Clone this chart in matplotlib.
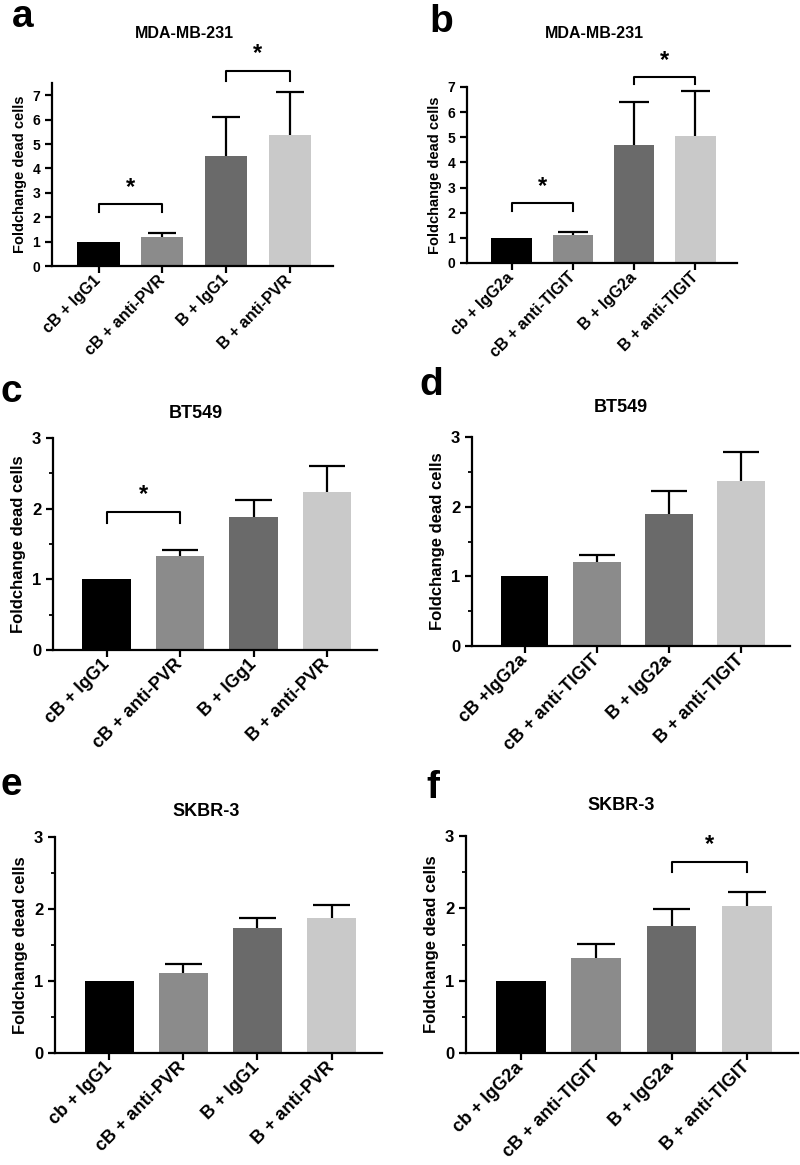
import numpy as np
import matplotlib
matplotlib.use("Agg")
import matplotlib.pyplot as plt
from matplotlib.ticker import MultipleLocator

plt.rcParams['font.family'] = ['Liberation Sans', 'DejaVu Sans']
plt.rcParams['font.weight'] = 'bold'

# ---- data (mean, upper error) ----
labels_a = ["cB + IgG1", "cB + anti-PVR", "B + IgG1", "B + anti-PVR"]
means_a = [1.0, 1.20, 4.52, 5.38]
err_a = [0.0, 0.17, 1.58, 1.77]

labels_b = ["cb + IgG2a", "cB + anti-TIGIT", "B + IgG2a", "B + anti-TIGIT"]
means_b = [1.0, 1.13, 4.68, 5.07]
err_b = [0.0, 0.11, 1.72, 1.76]

labels_c = ["cB + IgG1", "cB + anti-PVR", "B + IGg1", "B + anti-PVR"]
means_c = [1.0, 1.33, 1.88, 2.23]
err_c = [0.0, 0.08, 0.24, 0.37]

labels_d = ["cB +IgG2a", "cB + anti-TIGIT", "B + IgG2a", "B + anti-TIGIT"]
means_d = [1.0, 1.21, 1.89, 2.37]
err_d = [0.0, 0.10, 0.33, 0.41]

labels_e = ["cb + IgG1", "cB + anti-PVR", "B + IgG1", "B + anti-PVR"]
means_e = [1.0, 1.11, 1.74, 1.87]
err_e = [0.0, 0.13, 0.14, 0.18]

labels_f = ["cb + IgG2a", "cB + anti-TIGIT", "B + IgG2a", "B + anti-TIGIT"]
means_f = [1.0, 1.32, 1.76, 2.03]
err_f = [0.0, 0.19, 0.23, 0.19]

# significance brackets: (bar i, bar j, bracket height, leg bottom)
sig_a = [(0, 1, 2.54, 2.2), (2, 3, 8.0, 7.6)]
sig_b = [(0, 1, 2.39, 2.07), (2, 3, 7.4, 7.1)]
sig_c = [(0, 1, 1.95, 1.80)]
sig_d = []
sig_e = []
sig_f = [(2, 3, 2.64, 2.50)]

bar_colors = ["#000000", "#8b8b8b", "#6a6a6a", "#c9c9c9"]

W, H = 800, 1165
fig = plt.figure(figsize=(W / 100, H / 100), dpi=100)


def px_rect(left, right, top, bottom):
    return [left / W, 1 - bottom / H, (right - left) / W, (bottom - top) / H]


def panel(rect, labels, means, err, sig, ymax, ystep, minor, title, title_xy,
          letter, letter_xy, fs_tick, fs_lab, fs_num, cap):
    ax = fig.add_axes(rect)
    x = np.arange(len(means))
    means = np.array(means)
    tops = means + np.array(err)
    keep = np.array(err) > 0
    ax.bar(x, means, width=0.66, color=bar_colors, zorder=2)
    # upper-only error bars
    ax.vlines(x[keep], means[keep], tops[keep], color='black', lw=1.6, zorder=3)
    ax.hlines(tops[keep], x[keep] - cap, x[keep] + cap, color='black', lw=1.6, zorder=3)
    ax.set_xlim(-0.73, 3.68)
    ax.set_ylim(0, ymax)
    ax.yaxis.set_major_locator(MultipleLocator(ystep))
    if minor:
        ax.yaxis.set_minor_locator(MultipleLocator(minor))
    for s in ['top', 'right']:
        ax.spines[s].set_visible(False)
    for s in ['left', 'bottom']:
        ax.spines[s].set_linewidth(1.6)
        ax.spines[s].set_zorder(4)
    ax.tick_params(axis='both', which='major', width=1.6, length=5, labelsize=fs_num)
    ax.tick_params(axis='y', which='minor', width=1.3, length=3)
    ax.set_xticks(x)
    ax.set_xticklabels(labels, rotation=45, ha='right', va='center',
                       rotation_mode='anchor', fontsize=fs_tick, fontweight='bold')
    for lab in ax.get_yticklabels():
        lab.set_fontweight('bold')
    ax.set_ylabel("Foldchange dead cells", fontsize=fs_lab, fontweight='bold')
    for i, j, yb, yl in sig:
        ax.plot([i, i, j, j], [yl, yb, yb, yl], color='black', lw=1.5, clip_on=False)
        ax.text((i + j) / 2, yb + (ymax * 0.03), "*", ha='center', va='bottom',
                fontsize=17, fontweight='bold', clip_on=False)
    fig.text(title_xy[0] / W, 1 - title_xy[1] / H, title, ha='center', va='center',
             fontsize=fs_lab + 1, fontweight='bold')
    fig.text(letter_xy[0] / W, 1 - letter_xy[1] / H, letter, ha='left', va='baseline',
             fontsize=28, fontweight='bold')
    return ax


panel(px_rect(52, 333, 83, 266), labels_a, means_a, err_a, sig_a, 7.5, 1, None,
      "MDA-MB-231", (184, 33), "a", (12, 27), 11.5, 10.5, 10, 0.22)
panel(px_rect(467, 737, 87, 263), labels_b, means_b, err_b, sig_b, 7, 1, None,
      "MDA-MB-231", (594, 33), "b", (429, 32), 11.5, 10.5, 10, 0.24)
panel(px_rect(53, 377, 438, 650), labels_c, means_c, err_c, sig_c, 3, 1, 0.5,
      "BT549", (196, 413), "c", (1, 402), 13, 12, 12, 0.25)
panel(px_rect(472, 790, 437, 646), labels_d, means_d, err_d, sig_d, 3, 1, 0.5,
      "BT549", (621, 407), "d", (419, 395), 13, 12, 12, 0.25)
panel(px_rect(55, 382, 837, 1053), labels_e, means_e, err_e, sig_e, 3, 1, 0.5,
      "SKBR-3", (206, 812), "e", (1, 795), 13, 12, 12, 0.25)
panel(px_rect(466, 798, 836, 1053), labels_f, means_f, err_f, sig_f, 3, 1, 0.5,
      "SKBR-3", (621, 805), "f", (426, 798), 13, 12, 12, 0.25)

fig.savefig("out.png", dpi=100)
